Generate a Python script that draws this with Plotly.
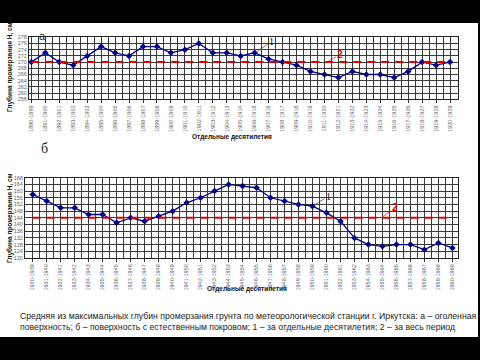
import plotly.graph_objects as go

W, H = 480, 360

labels_a = [f"{1890+i}-{1899+i}" for i in range(31)]
values_a = [270, 273, 270, 269, 272, 275, 273, 272, 275, 275, 273, 274, 276, 273, 273,
            272, 273, 271, 270, 269, 267, 266, 265, 267, 266, 266, 265, 267, 270, 269, 270]
mean_a = 270

labels_b = [f"{1930+i}-{1939+i}" for i in range(31)]
values_b = [158, 154, 150, 150, 146, 146, 141, 144, 142, 145, 148, 153, 156, 160, 164,
            163, 162, 156, 154, 152, 151, 147, 142, 132, 128, 127, 128, 128, 125, 129, 126]
mean_b = 144

caption1 = "Средняя из максимальных глубин промерзания грунта по метеорологической станции г. Иркутска: а – оголенная"
caption2 = "поверхность; б – поверхность с естественным покровом; 1 – за отдельные десятилетия; 2 – за весь период"
ytitle = "Глубина промерзания Н, см"
xtitle = "Отдельные десятилетия"

def px(x):
    return x / W

def py(y):
    return 1 - y / H

NAVY = "#000080"
RED = "#e00000"
GRID = "#3a3a3a"

fig = go.Figure()
idx = list(range(31))

fig.add_trace(go.Scatter(x=idx, y=values_a, mode="lines+markers", xaxis="x", yaxis="y",
                         line=dict(color=NAVY, width=1.3),
                         marker=dict(symbol="diamond", size=5, color=NAVY), showlegend=False))
fig.add_trace(go.Scatter(x=[idx[0], idx[-1]], y=[mean_a, mean_a], mode="lines", xaxis="x", yaxis="y",
                         line=dict(color=RED, width=2, dash="8px,6px"), showlegend=False))
fig.add_trace(go.Scatter(x=idx, y=values_b, mode="lines+markers", xaxis="x2", yaxis="y2",
                         line=dict(color=NAVY, width=1.3),
                         marker=dict(symbol="diamond", size=5, color=NAVY), showlegend=False))
fig.add_trace(go.Scatter(x=[idx[0], idx[-1]], y=[mean_b, mean_b], mode="lines", xaxis="x2", yaxis="y2",
                         line=dict(color=RED, width=2, dash="8px,6px"), showlegend=False))

def xax(domain, rng, labels, anchor):
    return dict(domain=domain, range=rng, anchor=anchor, automargin=False,
                tickmode="array", tickvals=idx, ticktext=labels, tickangle=-90,
                tickfont=dict(size=5.5, color="#666", family="Liberation Sans"),
                showgrid=True, gridcolor=GRID, gridwidth=0.6,
                minor=dict(tickmode="linear", tick0=0.5, dtick=1, showgrid=True,
                           gridcolor=GRID, gridwidth=0.6),
                ticks="outside", ticklen=3, tickcolor="#333",
                showline=True, linecolor="#222", linewidth=1, mirror=True, zeroline=False)

def yax(domain, rng, dt, anchor):
    return dict(domain=domain, range=rng, anchor=anchor, dtick=dt, tick0=rng[0], automargin=False,
                tickfont=dict(size=5.5, color="#666", family="Liberation Sans"),
                showgrid=True, gridcolor=GRID, gridwidth=0.6,
                showline=True, linecolor="#222", linewidth=1, mirror=True, zeroline=False,
                ticks="", ticklen=0)

fig.update_layout(
    template="none",
    width=W, height=H, margin=dict(l=0, r=0, t=0, b=0, pad=0, autoexpand=False),
    paper_bgcolor="white", plot_bgcolor="white",
    xaxis=xax([px(29), px(458)], [-0.17, 30.57], labels_a, "y"),
    yaxis=yax([py(99.3), py(37.3)], [258, 278], 2, "x"),
    xaxis2=xax([px(25), px(458)], [-0.55, 30.4], labels_b, "y2"),
    yaxis2=yax([py(258), py(177.7)], [120, 168], 4, "x2"),
)

ann = []
for yc in (67, 218):
    ann.append(dict(xref="paper", yref="paper", x=px(10), y=py(yc), text=f"<b>{ytitle}</b>", textangle=-90,
                    showarrow=False, font=dict(size=6.5, color="#111", family="Liberation Sans"),
                    xanchor="center", yanchor="middle"))
ann.append(dict(xref="paper", yref="paper", x=px(232), y=py(137), text=f"<b>{xtitle}</b>",
                showarrow=False, font=dict(size=6.5, color="#111", family="Liberation Sans")))
ann.append(dict(xref="paper", yref="paper", x=px(247), y=py(295), text=f"<b>{xtitle}</b>",
                showarrow=False, font=dict(size=6.5, color="#111", family="Liberation Sans")))
ann.append(dict(xref="paper", yref="paper", x=px(37), y=py(28), text="а", showarrow=False,
                font=dict(size=11, color="#222", family="Liberation Sans")))
ann.append(dict(xref="paper", yref="paper", x=px(39), y=py(148), text="б", showarrow=False,
                font=dict(size=14, color="#222", family="Liberation Serif")))
ann.append(dict(xref="x", yref="y", x=16, y=values_a[16], text="1", ax=17, ay=-11, standoff=3,
                showarrow=True, arrowhead=0, arrowwidth=0.7, arrowcolor="#444",
                font=dict(size=10, color="#111", family="Liberation Serif")))
ann.append(dict(xref="x", yref="y", x=21.2, y=mean_a, text="<b>2</b>", ax=13, ay=-8, standoff=1,
                showarrow=True, arrowhead=0, arrowwidth=0.7, arrowcolor=RED,
                font=dict(size=10, color=RED, family="Liberation Sans")))
ann.append(dict(xref="x2", yref="y2", x=20, y=values_b[20], text="1", ax=16, ay=-10, standoff=3,
                showarrow=True, arrowhead=0, arrowwidth=0.7, arrowcolor="#444",
                font=dict(size=10, color="#111", family="Liberation Serif")))
ann.append(dict(xref="x2", yref="y2", x=24.9, y=mean_b, text="<b>2</b>", ax=14, ay=-10, standoff=1,
                showarrow=True, arrowhead=0, arrowwidth=0.7, arrowcolor=RED,
                font=dict(size=10, color=RED, family="Liberation Sans")))
ann.append(dict(xref="paper", yref="paper", x=px(18), y=py(316), text=caption1, showarrow=False,
                xanchor="left", yanchor="middle", font=dict(size=8.7, color="#222", family="Liberation Sans")))
ann.append(dict(xref="paper", yref="paper", x=px(18), y=py(327), text=caption2, showarrow=False,
                xanchor="left", yanchor="middle", font=dict(size=8.7, color="#222", family="Liberation Sans")))
fig.update_layout(annotations=ann)

fig.update_layout(shapes=[
    dict(type="rect", xref="paper", yref="paper", x0=0, x1=1, y0=py(23), y1=1,
         fillcolor="black", line=dict(width=0), layer="above"),
    dict(type="rect", xref="paper", yref="paper", x0=0, x1=1, y0=0, y1=py(337),
         fillcolor="black", line=dict(width=0), layer="above"),
    dict(type="rect", xref="paper", yref="paper", x0=px(478), x1=1, y0=0, y1=1,
         fillcolor="black", line=dict(width=0), layer="above"),
])

fig.write_html("out.html", config={"displayModeBar": False},
               post_script="document.body.style.margin='0';document.body.style.overflow='hidden';")
